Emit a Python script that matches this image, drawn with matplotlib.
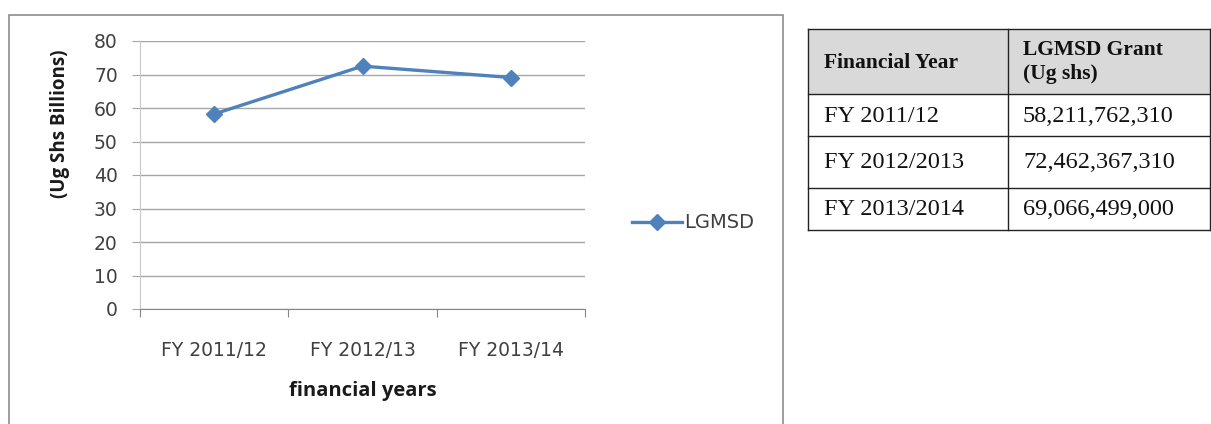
import matplotlib
matplotlib.use("Agg")
import matplotlib.pyplot as plt
from matplotlib.patches import Rectangle

# chart data (Ug Shs billions)
years = ["FY 2011/12", "FY 2012/13", "FY 2013/14"]
values = [58.2, 72.5, 69.1]
series_name = "LGMSD"
y_ticks = [0, 10, 20, 30, 40, 50, 60, 70, 80]

# table data
table_header = ["Financial Year", "LGMSD Grant\n(Ug shs)"]
table_years = ["FY 2011/12", "FY 2012/2013", "FY 2013/2014"]
table_grants = ["58,211,762,310", "72,462,367,310", "69,066,499,000"]

W, H = 1211, 424
fig = plt.figure(figsize=(W / 100, H / 100), dpi=100)


def fx(px):
    return px / W


def fy(py):
    return 1 - py / H


blue = "#4f81bd"
grid_c = "#a6a6a6"
text_c = "#404040"
sans = "DejaVu Sans"
bold_sans = "Open Sans"

# chart frame
fig.patches.append(Rectangle((fx(9), fy(440)), fx(783) - fx(9), fy(15) - fy(440),
                             transform=fig.transFigure, fill=False,
                             edgecolor="#8c8c8c", linewidth=1.2, clip_on=False))

ax = fig.add_axes([fx(140), fy(309), fx(585) - fx(140), fy(41) - fy(309)])
x = list(range(len(years)))
ax.plot(x, values, color=blue, linewidth=2.4, marker="D", markersize=8,
        label=series_name)
ax.set_xlim(-0.5, len(years) - 0.5)
ax.set_ylim(0, 80)
ax.set_yticks(y_ticks)
ax.yaxis.grid(True, color=grid_c, linewidth=1.0)
ax.set_axisbelow(True)
for s in ["top", "right"]:
    ax.spines[s].set_visible(False)
ax.spines["left"].set_color("#c8c8c8")
ax.spines["bottom"].set_color("#868686")

ax.set_xticks([i - 0.5 for i in range(len(years) + 1)])
ax.set_xticklabels([])
ax.set_xticks(x, minor=True)
ax.set_xticklabels(years, minor=True, fontsize=13.5, color=text_c, family=sans)
ax.tick_params(axis="x", which="major", direction="out", length=6, color="#868686")
ax.tick_params(axis="x", which="minor", length=0, pad=23)
ax.tick_params(axis="y", direction="out", length=6, color=grid_c, pad=10,
               labelsize=13.5, labelcolor=text_c)
for t in ax.get_yticklabels():
    t.set_family(sans)

ax.set_xlabel("financial years", fontsize=14.5, fontweight="bold", family=bold_sans,
              color="#1a1a1a", labelpad=15)
ax.set_ylabel("(Ug Shs Billions)", fontsize=13.5, fontweight="bold", family=bold_sans,
              color="#1a1a1a")
ax.yaxis.set_label_coords((70 - 140) / 445, (309 - 124) / 268)

leg = ax.legend(loc="center left", bbox_to_anchor=((622 - 140) / 445, (309 - 223) / 268),
                frameon=False, prop={"family": sans, "size": 14}, handlelength=2.6,
                handletextpad=0.1, borderpad=0)
for t in leg.get_texts():
    t.set_color(text_c)

# table
col_x = [808, 1008, 1210]
row_y = [29, 94, 136, 188, 230]
serif = "Liberation Serif"
fig.patches.append(Rectangle((fx(col_x[0]), fy(row_y[1])), fx(col_x[2]) - fx(col_x[0]),
                             fy(row_y[0]) - fy(row_y[1]), transform=fig.transFigure,
                             facecolor="#d9d9d9", edgecolor="none"))
for yy in row_y:
    fig.add_artist(plt.Line2D([fx(col_x[0]), fx(col_x[2])], [fy(yy), fy(yy)],
                              color="#222222", linewidth=1.0))
for xx in col_x:
    fig.add_artist(plt.Line2D([fx(xx), fx(xx)], [fy(row_y[0]), fy(row_y[-1])],
                              color="#222222", linewidth=1.0))

fig.text(fx(824), fy(63), table_header[0], fontsize=15.5, fontweight="bold", family=serif,
         va="center", ha="left", color="#111111")
fig.text(fx(1023), fy(62), table_header[1], fontsize=15.5, fontweight="bold", family=serif,
         va="center", ha="left", color="#111111", linespacing=1.3)
for i, (yr, g) in enumerate(zip(table_years, table_grants)):
    cy = (row_y[i + 1] + row_y[i + 2]) / 2 + 1
    fig.text(fx(824), fy(cy), yr, fontsize=17.5, family=serif, va="center", ha="left",
             color="#111111")
    fig.text(fx(1023), fy(cy), g, fontsize=17.5, family=serif, va="center", ha="left",
             color="#111111")

fig.savefig("out.png", dpi=100)
